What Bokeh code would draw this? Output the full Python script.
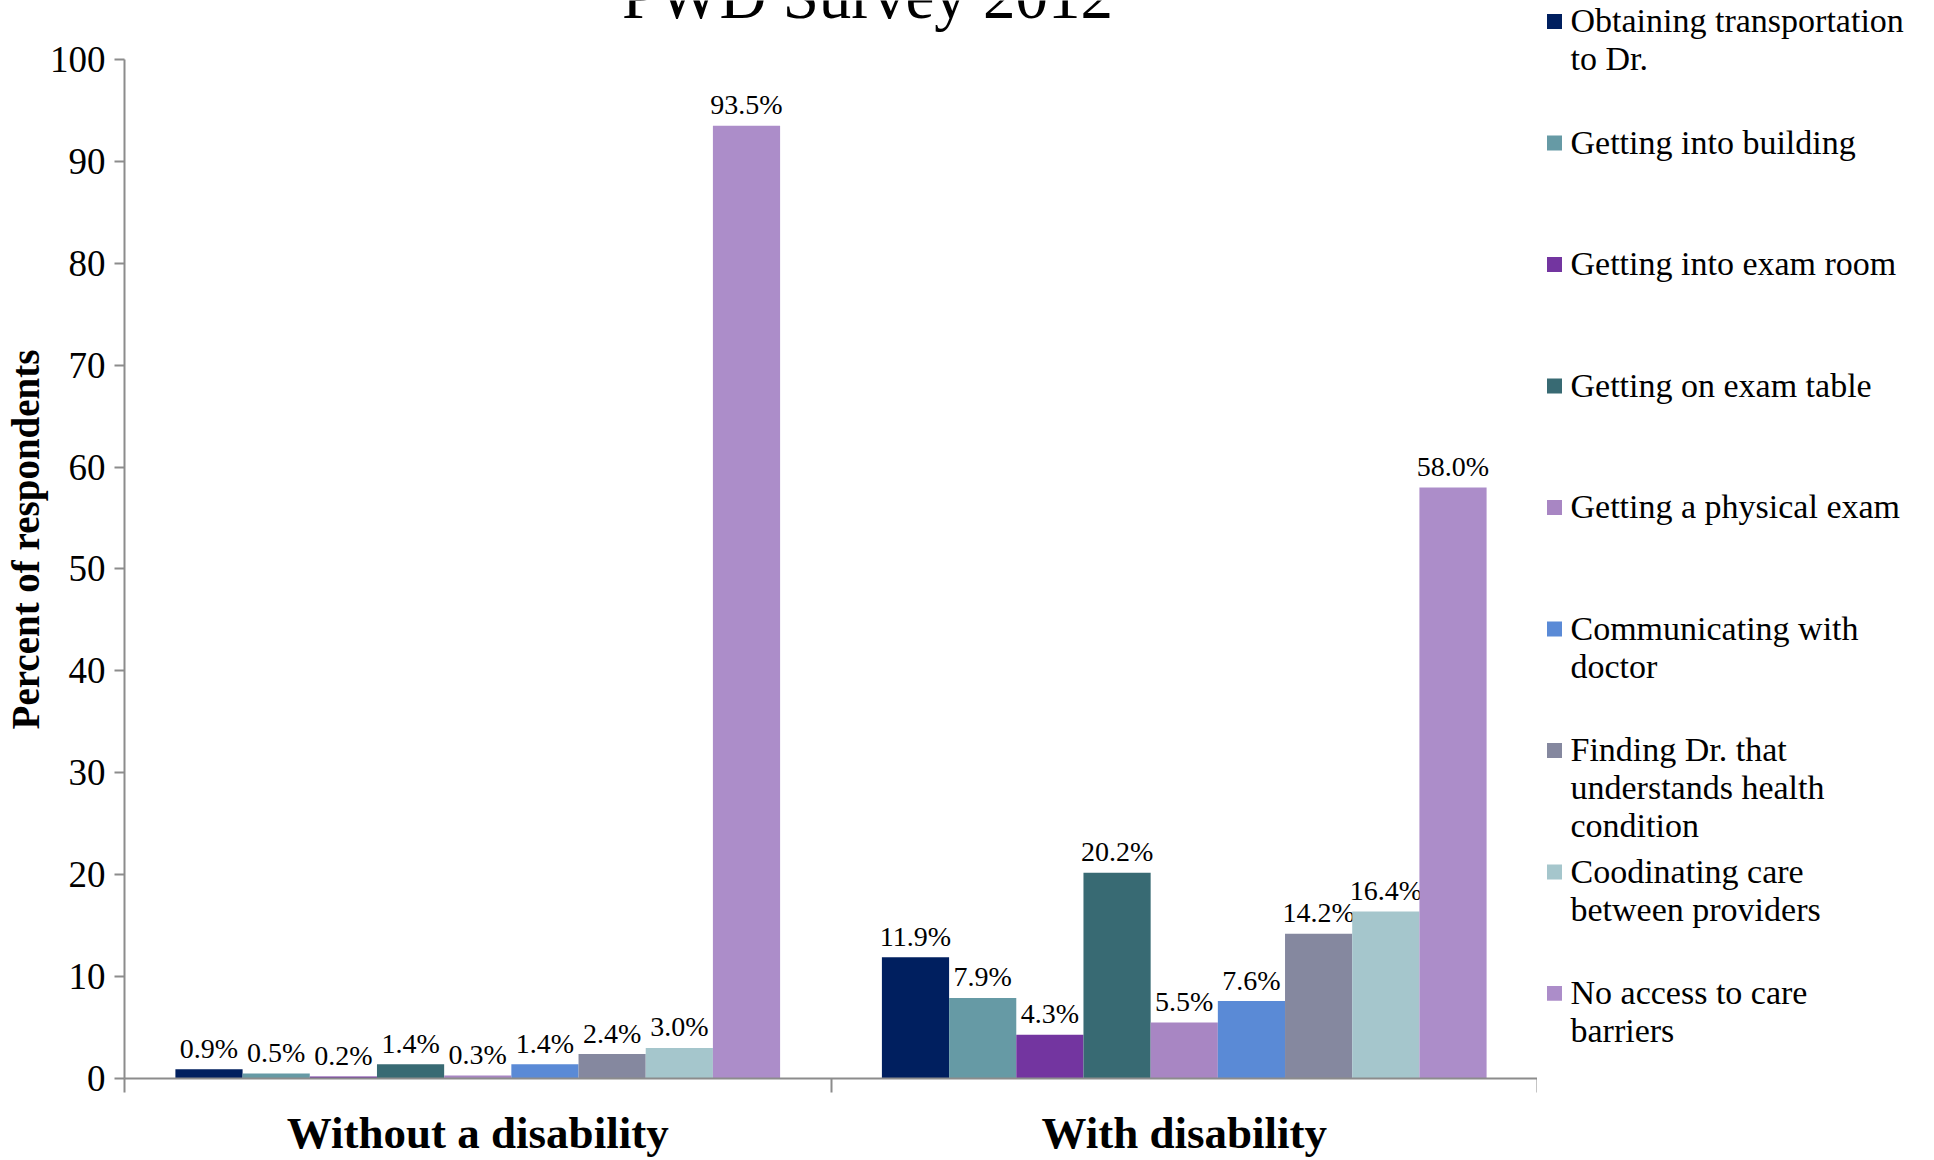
from bokeh.plotting import figure
from bokeh.models import Range1d, FixedTicker, Label, ColumnDataSource
from bokeh.layouts import row
from bokeh.embed import file_html
from bokeh.resources import INLINE
from bokeh.core.properties import value

chart_title = "PWD Survey 2012"
y_title = "Percent of respondents"
groups = ["Without a disability", "With disability"]
series = [
    "Obtaining transportation\nto Dr.",
    "Getting into building",
    "Getting into exam room",
    "Getting on exam table",
    "Getting a physical exam",
    "Communicating with\ndoctor",
    "Finding Dr. that\nunderstands health\ncondition",
    "Coodinating care\nbetween providers",
    "No access to care\nbarriers",
]
without_vals = [0.9, 0.5, 0.2, 1.4, 0.3, 1.4, 2.4, 3.0, 93.5]
with_vals = [11.9, 7.9, 4.3, 20.2, 5.5, 7.6, 14.2, 16.4, 58.0]
colors = ["#001F5F", "#669AA5", "#7335A0", "#386A73", "#A886C3",
          "#5A8AD6", "#85889F", "#A5C6CC", "#AC8DC9"]
y_ticks = list(range(0, 101, 10))

FONT = "Liberation Serif"
AXIS_COLOR = "#8c8c8c"

FRAME_BOTTOM = 1079      # canvas px of the zero line
PX_PER_UNIT = 10.2       # px per percent
y_top = FRAME_BOTTOM / PX_PER_UNIT

p = figure(width=1537, height=1160, x_range=Range1d(0, 2), y_range=Range1d(0, y_top),
           output_backend="svg", toolbar_location=None, title=None,
           min_border_left=124, min_border_right=0, min_border_top=0,
           min_border_bottom=1160 - FRAME_BOTTOM)
p.grid.visible = False
p.outline_line_color = None
p.background_fill_color = "white"
p.border_fill_color = "white"

group_centers = [i + 0.5 for i in range(len(groups))]
bar_w = 0.0951
n = len(series)
for i, name in enumerate(series):
    off = (i - (n - 1) / 2) * bar_w
    vals = [without_vals[i], with_vals[i]]
    src = ColumnDataSource(dict(
        x=[c + off for c in group_centers],
        top=vals,
        lab=[f"{v:.1f}%" for v in vals],
    ))
    p.vbar(x="x", top="top", width=bar_w, bottom=0, source=src,
           fill_color=colors[i], line_color=None)
    p.text(x="x", y="top", text="lab", source=src, y_offset=-21,
           text_align="center", text_baseline="alphabetic",
           text_font=value(FONT), text_font_size="28px", text_color="black")

# x axis
xa = p.xaxis[0]
xa.ticker = FixedTicker(ticks=group_centers, minor_ticks=[0, 1, 2])
xa.major_label_overrides = {c: g for c, g in zip(group_centers, groups)}
xa.major_tick_out = 0
xa.major_tick_in = 0
xa.major_tick_line_color = None
xa.minor_tick_out = 14
xa.minor_tick_in = 0
xa.minor_tick_line_color = AXIS_COLOR
xa.minor_tick_line_width = 2
xa.axis_line_color = AXIS_COLOR
xa.axis_line_width = 2
xa.major_label_text_font = FONT
xa.major_label_text_font_style = "bold"
xa.major_label_text_font_size = "45px"
xa.major_label_text_color = "black"
xa.major_label_standoff = 15

# y axis
ya = p.yaxis[0]
ya.ticker = FixedTicker(ticks=y_ticks)
ya.bounds = (0, 100)
ya.minor_tick_line_color = None
ya.major_tick_in = 0
ya.major_tick_out = 10
ya.major_tick_line_color = AXIS_COLOR
ya.major_tick_line_width = 2
ya.axis_line_color = AXIS_COLOR
ya.axis_line_width = 2
ya.major_label_text_font = FONT
ya.major_label_text_font_size = "37px"
ya.major_label_text_color = "black"
ya.major_label_standoff = 9
ya.axis_label = y_title
ya.axis_label_text_font = FONT
ya.axis_label_text_font_style = "bold"
ya.axis_label_text_font_size = "39px"
ya.axis_label_text_color = "black"
ya.axis_label_standoff = 0

p.add_layout(Label(x=1.0517, y=106.2, text=chart_title,
                   text_align="center", text_baseline="alphabetic",
                   text_font=FONT, text_font_size="65px", text_color="black"))

# legend panel (canvas-pixel coordinates, y downward)
lf = figure(width=397, height=1160, x_range=Range1d(0, 397),
            y_range=Range1d(FRAME_BOTTOM, 0),
            output_backend="svg", toolbar_location=None, title=None,
            x_axis_type=None, y_axis_type=None,
            min_border_left=0, min_border_right=0, min_border_top=0,
            min_border_bottom=1160 - FRAME_BOTTOM)
lf.grid.visible = False
lf.outline_line_color = None
item_y = [21 + i * 121.6 for i in range(n)]
lf.rect(x=[17] * n, y=item_y, width=15, height=15, fill_color=colors, line_color=None)
lf.text(x=[33] * n, y=[yy - 19 for yy in item_y], text=series,
        text_align="left", text_baseline="top", text_line_height=1.02,
        text_font=value(FONT), text_font_size="34px", text_color="black")

layout = row(p, lf, spacing=0)
open("out.html", "w").write(file_html(layout, INLINE))
